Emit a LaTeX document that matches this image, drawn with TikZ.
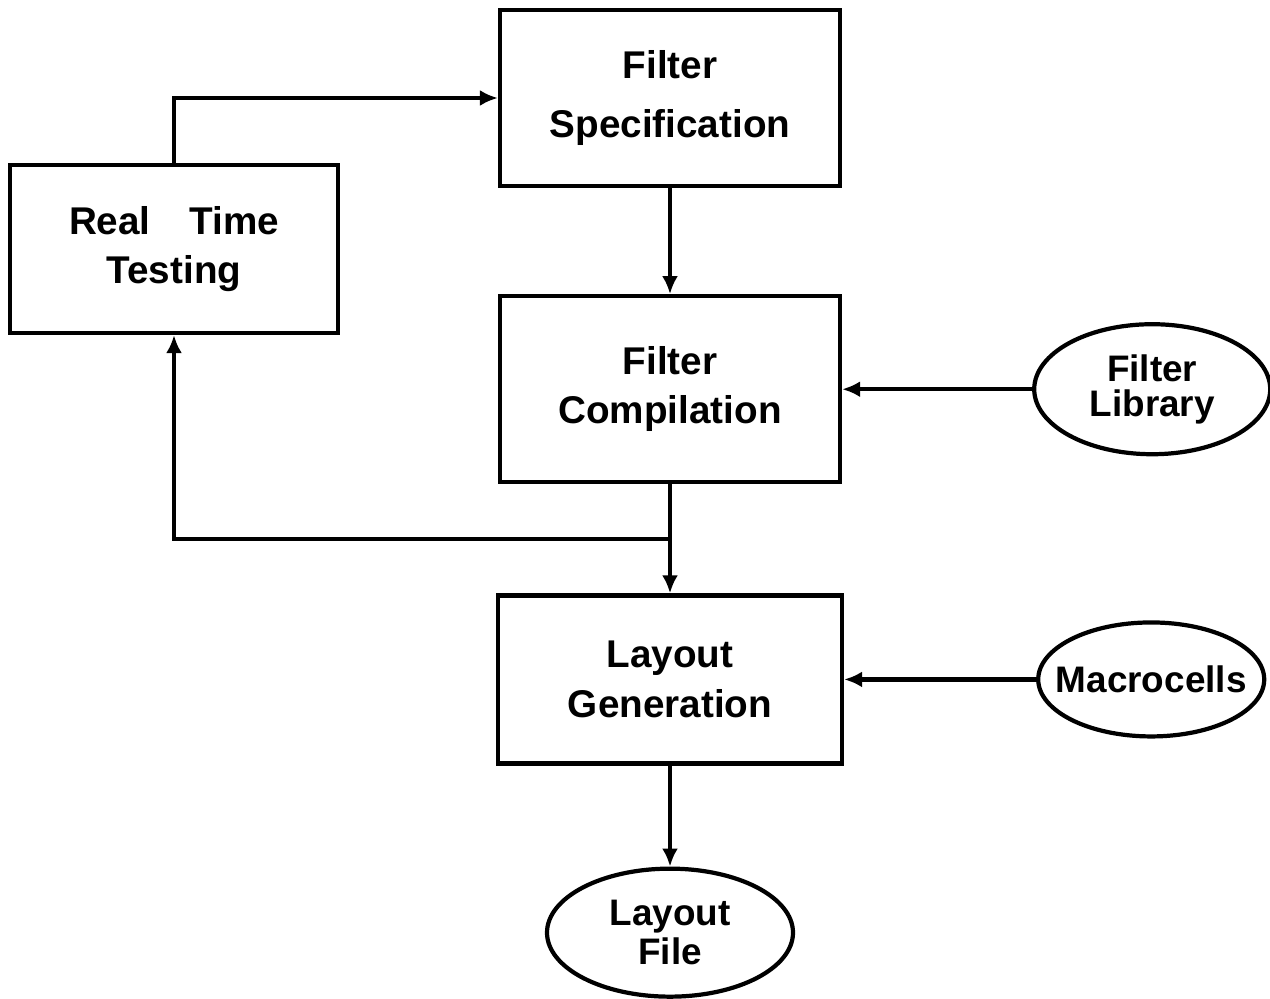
\documentclass[tikz,border=0pt]{standalone}
\usepackage{fontspec}
\setmainfont{Liberation Sans}
\usepackage{tikz}
\usetikzlibrary{positioning, arrows.meta, shapes.geometric, calc}
\tikzset{
  blk/.style={draw, line width=2.4pt, align=center, minimum width=6.8cm, minimum height=3.4cm,
              font=\fontsize{22}{28}\selectfont\bfseries},
  src/.style={draw, ellipse, line width=2.4pt, align=center, inner xsep=-0.4cm, inner ysep=0pt,
              font=\fontsize{21}{20}\selectfont\bfseries},
  fl/.style={-{Latex[length=3.6mm, width=3.2mm]}, line width=2.4pt},
}

\begin{document}
\begin{tikzpicture}[node distance=2.1cm]
  \useasboundingbox (0,0) rectangle (25.4,-19.98);
  % ---------- main flow ----------
  \node[blk, minimum height=3.52cm, font=\fontsize{22}{34}\selectfont\bfseries] (spec) at (13.4,-1.96) {Filter\\Specification};
  \node[blk, minimum height=3.72cm, below=2.12cm of spec] (comp) {Filter\\Compilation};
  \node[blk, minimum width=6.88cm, minimum height=3.36cm, below=2.18cm of comp] (layout) {Layout\\Generation};
  \node[src, minimum width=4.92cm, minimum height=2.56cm, below=2.02cm of layout,
        font=\fontsize{21}{22}\selectfont\bfseries] (file) {Layout\\File};
  % ---------- test loop ----------
  \node[blk, minimum width=6.56cm, minimum height=3.36cm] (rtt) at (3.48,-4.98) {Real\quad Time\\Testing};
  % ---------- inputs ----------
  \node[src, minimum width=4.72cm, minimum height=2.6cm, right=3.8cm of comp] (lib) {Filter\\Library};
  \node[src, minimum width=4.52cm, minimum height=2.28cm, right=3.84cm of layout] (macro) {Macrocells};
  \coordinate (split) at ($(comp.south)!0.5!(layout.north)$);
  \draw[fl] (rtt.north) |- (spec.west);
  \draw[fl] (spec.south) -- (comp.north);
  \draw[fl] (lib.west) -- (comp.east);
  \draw[fl] (comp.south) -- (layout.north);
  \draw[fl] (split) -| (rtt.south);
  \draw[fl] (macro.west) -- (layout.east);
  \draw[fl] (layout.south) -- (file.north);
\end{tikzpicture}
\end{document}
